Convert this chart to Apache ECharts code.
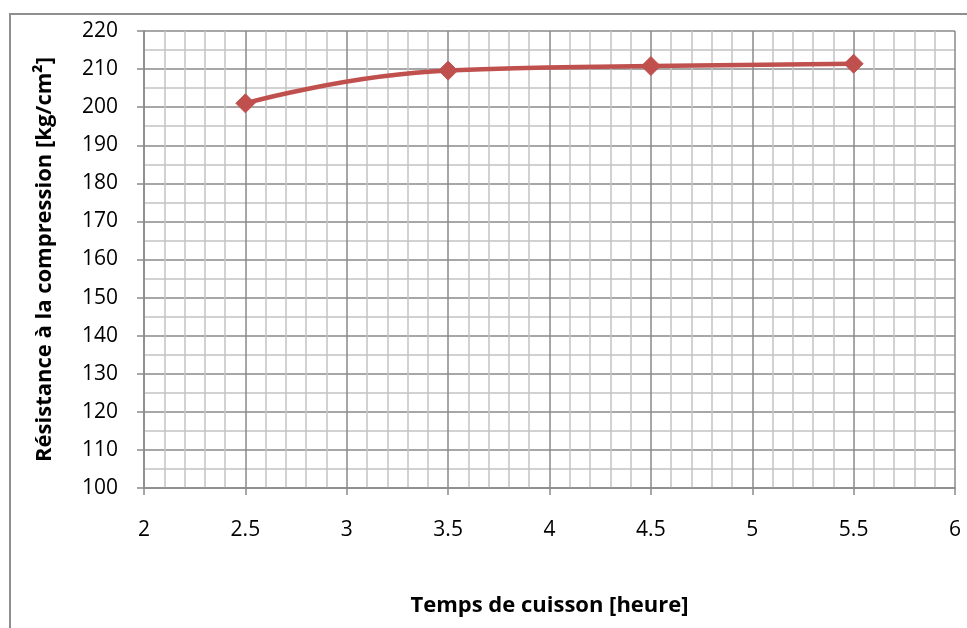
<!DOCTYPE html>
<html>
<head>
<meta charset="utf-8">
<script src="https://cdn.jsdelivr.net/npm/echarts@6/dist/echarts.min.js"></script>
<style>
  html, body { margin: 0; padding: 0; background: #fff; }
  #chart { width: 967px; height: 628px; }
</style>
</head>
<body>
<div id="chart"></div>
<script>
// Cooking time (hours) vs. compressive strength (kg/cm²)
const cookingHours = [2.5, 3.5, 4.5, 5.5];
const strengthValues = [201, 209.6, 210.8, 211.4];

const xTitle = 'Temps de cuisson [heure]';
const yTitle = 'Résistance à la compression [kg/cm²]';

const FONT = '"Open Sans", "Noto Sans", sans-serif';
const MAJOR = '#8a8a8a';
const MINOR = '#c4c4c4';

const chart = echarts.init(document.getElementById('chart'), null, { renderer: 'canvas' });

chart.setOption({
  backgroundColor: '#ffffff',
  animation: false,
  graphic: [{
    type: 'rect',
    shape: { x: 10, y: 14, width: 1000, height: 700 },
    style: { fill: 'none', stroke: '#8e8e8e', lineWidth: 2 },
    silent: true,
    z: -10
  }],
  grid: { left: 144, right: 12, top: 31, bottom: 140, containLabel: false },
  xAxis: {
    type: 'value',
    min: 2, max: 6, interval: 0.5,
    name: xTitle,
    nameLocation: 'middle',
    nameGap: 107,
    nameTextStyle: { fontFamily: FONT, fontSize: 22, fontWeight: 'bold', color: '#000' },
    axisLine: { show: true, lineStyle: { color: MAJOR, width: 1.5 } },
    axisTick: { show: true, length: 7, lineStyle: { color: MAJOR, width: 1.5 } },
    axisLabel: { fontFamily: FONT, fontSize: 21, color: '#000', margin: 32 },
    splitLine: { show: true, lineStyle: { color: MAJOR, width: 1.5 } },
    minorTick: { show: false, splitNumber: 5 },
    minorSplitLine: { show: true, lineStyle: { color: MINOR, width: 1.5 } }
  },
  yAxis: {
    type: 'value',
    min: 100, max: 220, interval: 10,
    name: yTitle,
    nameLocation: 'middle',
    nameGap: 88,
    nameTextStyle: { fontFamily: FONT, fontSize: 22, fontWeight: 'bold', color: '#000' },
    axisLine: { show: true, lineStyle: { color: MAJOR, width: 1.5 } },
    axisTick: { show: true, length: 7, lineStyle: { color: MAJOR, width: 1.5 } },
    axisLabel: { fontFamily: FONT, fontSize: 21, color: '#000', margin: 26 },
    splitLine: { show: true, lineStyle: { color: MAJOR, width: 1.5 } },
    minorTick: { show: false, splitNumber: 2 },
    minorSplitLine: { show: true, lineStyle: { color: MINOR, width: 1.5 } }
  },
  series: [{
    type: 'line',
    data: cookingHours.map((h, i) => [h, strengthValues[i]]),
    smooth: 0.5,
    symbol: 'diamond',
    symbolSize: 19,
    showAllSymbol: true,
    lineStyle: { color: '#c0504d', width: 4.5, cap: 'round', join: 'round' },
    itemStyle: { color: '#c0504d', borderColor: '#c0504d', borderWidth: 1 },
    z: 5
  }]
});
</script>
</body>
</html>
